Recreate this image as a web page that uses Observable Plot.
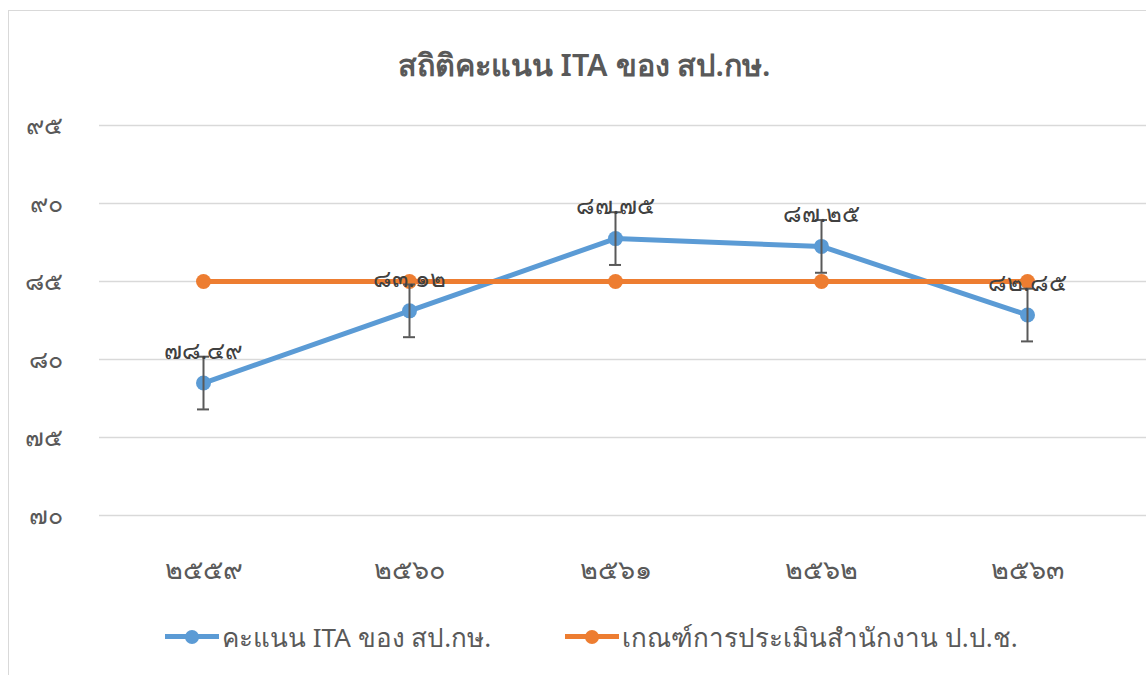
<!DOCTYPE html>
<html>
<head>
<meta charset="utf-8">
<script src="https://cdn.jsdelivr.net/npm/d3@7"></script>
<script src="https://cdn.jsdelivr.net/npm/@observablehq/plot@0.6"></script>
<style>
  html, body { margin: 0; padding: 0; background: #fff; }
  body { width: 1146px; height: 675px; position: relative; overflow: hidden; font-family: "Noto Sans", "DejaVu Sans", sans-serif; }
  #frame { position: absolute; left: 8px; top: 10px; width: 1200px; height: 700px; border: 1px solid #d9d9d9; box-sizing: border-box; }
  #title { position: absolute; left: 0; width: 1168px; top: 41px; text-align: center; font-size: 30.5px; font-weight: 600; color: #595959; }
  #chart { position: absolute; left: 0; top: 95px; }
  #legend { position: absolute; left: 0; top: 618px; width: 1146px; font-size: 26px; color: #595959; }
  .item { position: absolute; top: 0; display: flex; align-items: center; height: 38px; }
  .sym { position: relative; width: 54px; height: 38px; }
  .sym .ln { position: absolute; left: 0; right: 0; top: 16px; height: 5px; }
  .sym .dot { position: absolute; left: 20px; top: 12px; width: 14px; height: 14px; border-radius: 50%; }
</style>
</head>
<body>
<div id="frame"></div>
<div id="title">สถิติคะแนน ITA ของ สป.กษ.</div>
<div id="chart"></div>
<div id="legend"></div>
<script>
const years = ["2559", "2560", "2561", "2562", "2563"];
const yearLabels = ["๒๕๕๙", "๒๕๖๐", "๒๕๖๑", "๒๕๖๒", "๒๕๖๓"];
const itaScores = [78.49, 83.12, 87.75, 87.25, 82.85];
const itaLabels = ["๗๘.๔๙", "๘๓.๑๒", "๘๗.๗๕", "๘๗.๒๕", "๘๒.๘๕"];
const itaError = [1.69, 1.69, 1.69, 1.69, 1.69];
const criterion = [85, 85, 85, 85, 85];
const yTicks = [70, 75, 80, 85, 90, 95];
const yTickLabels = ["๗๐", "๗๕", "๘๐", "๘๕", "๙๐", "๙๕"];
const seriesNames = ["คะแนน ITA ของ สป.กษ.", "เกณฑ์การประเมินสำนักงาน ป.ป.ช."];
const colors = ["#5b9bd5", "#ed7d31"];

const ita = years.map((y, i) => ({year: y, value: itaScores[i], label: itaLabels[i], err: itaError[i]}));
const crit = years.map((y, i) => ({year: y, value: criterion[i]}));
const yLab = Object.fromEntries(yTicks.map((t, i) => [t, yTickLabels[i]]));
const xLab = Object.fromEntries(years.map((y, i) => [y, yearLabels[i]]));

const plot = Plot.plot({
  width: 1146,
  height: 510,
  marginLeft: 99,
  marginRight: 0,
  marginTop: 30,
  marginBottom: 90,
  style: { fontFamily: "Noto Sans, DejaVu Sans, sans-serif", background: "transparent", overflow: "visible" },
  x: { type: "band", domain: years, range: [99, 1130], padding: 0, label: null },
  y: { domain: [70, 95], label: null },
  marks: [
    Plot.ruleY(yTicks, { stroke: "#d9d9d9", strokeWidth: 1.3 }),
    Plot.axisY({ ticks: yTicks, tickFormat: d => yLab[d], tickSize: 0, tickPadding: 37, fontSize: 25, color: "#595959", label: null }),
    Plot.axisX({ tickFormat: d => xLab[d], tickSize: 0, tickPadding: 44, fontSize: 27, color: "#595959", label: null }),
    Plot.line(ita, { x: "year", y: "value", stroke: colors[0], strokeWidth: 5 }),
    Plot.dot(ita, { x: "year", y: "value", fill: colors[0], r: 7.5 }),
    Plot.line(crit, { x: "year", y: "value", stroke: colors[1], strokeWidth: 5 }),
    Plot.dot(crit, { x: "year", y: "value", fill: colors[1], r: 7.5 }),
    Plot.ruleX(ita, { x: "year", y1: d => d.value - d.err, y2: d => d.value + d.err, stroke: "#595959", strokeWidth: 2 }),
    Plot.tickY(ita, { x: "year", y: d => d.value - d.err, stroke: "#595959", strokeWidth: 2, inset: 97 }),
    Plot.tickY(ita, { x: "year", y: d => d.value + d.err, stroke: "#595959", strokeWidth: 2, inset: 97 }),
    Plot.text(ita, { x: "year", y: "value", text: "label", dy: -32, fontSize: 24, fill: "#404040" })
  ]
});
document.getElementById("chart").appendChild(plot);

const legend = document.getElementById("legend");
const legendX = [165, 565];
seriesNames.forEach((name, i) => {
  const it = document.createElement("div");
  it.className = "item";
  it.style.left = legendX[i] + "px";
  it.innerHTML = `<div class="sym"><div class="ln" style="background:${colors[i]}"></div><div class="dot" style="background:${colors[i]}"></div></div><span style="margin-left:3px">${name}</span>`;
  legend.appendChild(it);
});
</script>
</body>
</html>
